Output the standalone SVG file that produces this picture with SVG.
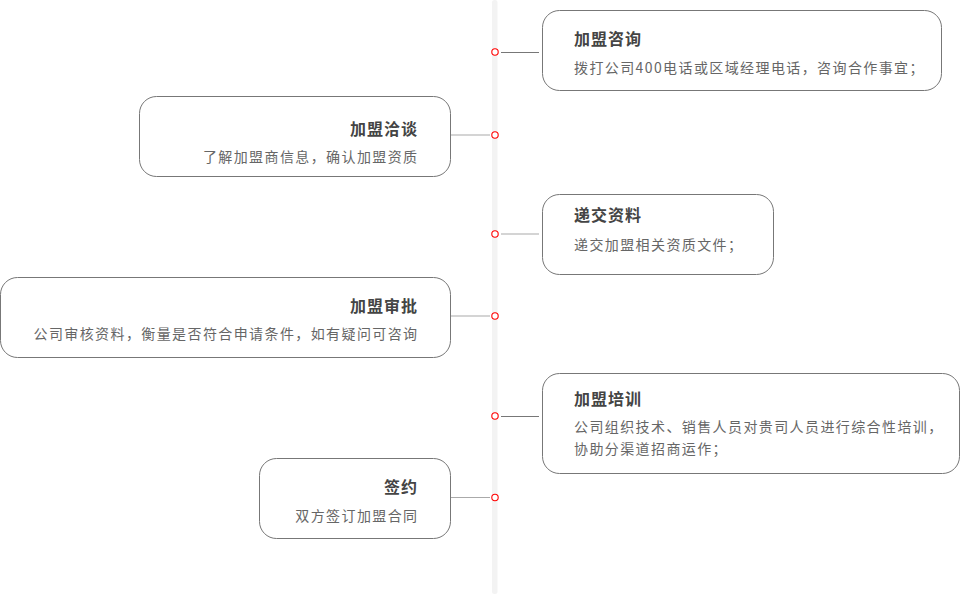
<svg xmlns="http://www.w3.org/2000/svg" width="960" height="595" viewBox="0 0 960 595">
<style>
.box{fill:#fff;stroke:#777;stroke-width:1}
.t{font-family:"Noto Sans CJK SC","Noto Sans",sans-serif;font-size:16px;font-weight:bold;fill:#444;letter-spacing:1px}
.s{font-family:"Noto Sans CJK SC","Noto Sans",sans-serif;font-size:14px;fill:#666;letter-spacing:1.4px}
.r{text-anchor:end}
.ln{stroke:#777;stroke-width:1}
.lt{stroke:#aaa;stroke-width:1.2}
.dot{fill:#fff;stroke:#f00;stroke-width:1.1}
</style>
<rect x="492" y="0" width="5.5" height="594" rx="2.5" fill="#f3f3f3"/>
<g id="connectors">
<line class="ln" x1="501" y1="52.5" x2="539" y2="52.5"/>
<line class="lt" x1="451" y1="135" x2="490" y2="135"/>
<line class="lt" x1="501" y1="234" x2="539" y2="234"/>
<line class="lt" x1="451" y1="316" x2="490" y2="316"/>
<line class="ln" x1="501" y1="416.5" x2="539" y2="416.5"/>
<line class="lt" x1="451" y1="497.5" x2="490" y2="497.5"/>
<circle class="dot" cx="495" cy="52" r="3.2"/>
<circle class="dot" cx="495" cy="135" r="3.2"/>
<circle class="dot" cx="495" cy="234" r="3.2"/>
<circle class="dot" cx="495" cy="316" r="3.2"/>
<circle class="dot" cx="495" cy="416" r="3.2"/>
<circle class="dot" cx="495" cy="497.5" r="3.2"/>
</g>
<g id="n1">
<rect class="box" x="542.5" y="10.5" width="399" height="80" rx="17"/>
<text class="t" x="574" y="44.5">加盟咨询</text>
<text class="s" x="574" y="73">拨打公司400电话或区域经理电话，咨询合作事宜；</text>
</g>
<g id="n2">
<rect class="box" x="139.5" y="96.5" width="311" height="80" rx="17"/>
<text class="t r" x="418" y="134.5">加盟洽谈</text>
<text class="s r" x="418.5" y="162">了解加盟商信息，确认加盟资质</text>
</g>
<g id="n3">
<rect class="box" x="542.5" y="194.5" width="231" height="80" rx="17"/>
<text class="t" x="574" y="221">递交资料</text>
<text class="s" x="574" y="250">递交加盟相关资质文件；</text>
</g>
<g id="n4">
<rect class="box" x="0.5" y="277.5" width="450" height="80" rx="17"/>
<text class="t r" x="418" y="311.5">加盟审批</text>
<text class="s r" x="418.5" y="339">公司审核资料，衡量是否符合申请条件，如有疑问可咨询</text>
</g>
<g id="n5">
<rect class="box" x="542.5" y="373.5" width="417" height="100" rx="17"/>
<text class="t" x="574" y="404.5">加盟培训</text>
<text class="s" x="574" y="432">公司组织技术、销售人员对贵司人员进行综合性培训，</text>
<text class="s" x="574" y="454">协助分渠道招商运作；</text>
</g>
<g id="n6">
<rect class="box" x="259.5" y="458.5" width="191" height="80" rx="17"/>
<text class="t r" x="418" y="493">签约</text>
<text class="s r" x="418.5" y="520.5">双方签订加盟合同</text>
</g>
</svg>
